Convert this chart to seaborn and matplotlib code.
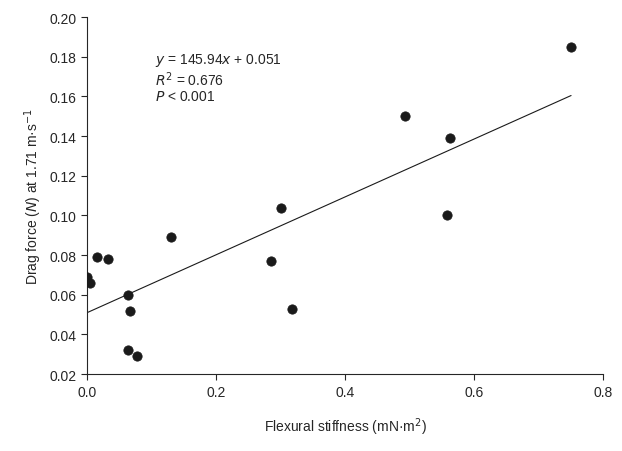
import matplotlib
matplotlib.use("Agg")
import matplotlib.pyplot as plt
import seaborn as sns
import numpy as np
import pandas as pd

stiffness = [0.0, 0.005, 0.015, 0.033, 0.063, 0.067, 0.063, 0.078, 0.13, 0.285, 0.30, 0.318, 0.493, 0.557, 0.562, 0.75]
drag = [0.069, 0.066, 0.079, 0.078, 0.060, 0.052, 0.032, 0.029, 0.089, 0.077, 0.104, 0.053, 0.150, 0.100, 0.139, 0.185]
slope, intercept = 0.14594, 0.051
fit_x = [0.0, 0.75]

sns.set_style("ticks")
plt.rcParams['font.family'] = ['Liberation Sans', 'DejaVu Sans']
fig, ax = plt.subplots(figsize=(6.22, 4.52), dpi=100)
df = pd.DataFrame({"x": stiffness, "y": drag})
sns.scatterplot(data=df, x="x", y="y", ax=ax, color="#1a1a1a", s=45, edgecolor="#1a1a1a", zorder=3)
fx = np.array(fit_x)
ax.plot(fx, slope * fx + intercept, color="#1a1a1a", lw=0.8)
ax.set_xlim(0, 0.8)
ax.set_ylim(0.02, 0.20)
ax.set_xticks([0.0, 0.2, 0.4, 0.6, 0.8])
ax.set_yticks(np.arange(0.02, 0.201, 0.02))
ax.xaxis.set_major_formatter(matplotlib.ticker.FormatStrFormatter('%.1f'))
ax.yaxis.set_major_formatter(matplotlib.ticker.FormatStrFormatter('%.2f'))
ax.tick_params(labelsize=10, direction="out", length=4)
ax.set_xlabel("Flexural stiffness (mN·m$^2$)", fontsize=10, labelpad=12)
ax.set_ylabel("Drag force ($N$) at 1.71 m·s$^{-1}$", fontsize=10)
sns.despine(ax=ax)
ax.text(0.105, 0.183, "$y$ = 145.94$x$ + 0.051\n$R^2$ = 0.676\n$P$ < 0.001", fontsize=10, va="top", linespacing=1.1)
fig.subplots_adjust(left=0.14, right=0.97, top=0.96, bottom=0.17)
fig.savefig("out.png", dpi=100)
